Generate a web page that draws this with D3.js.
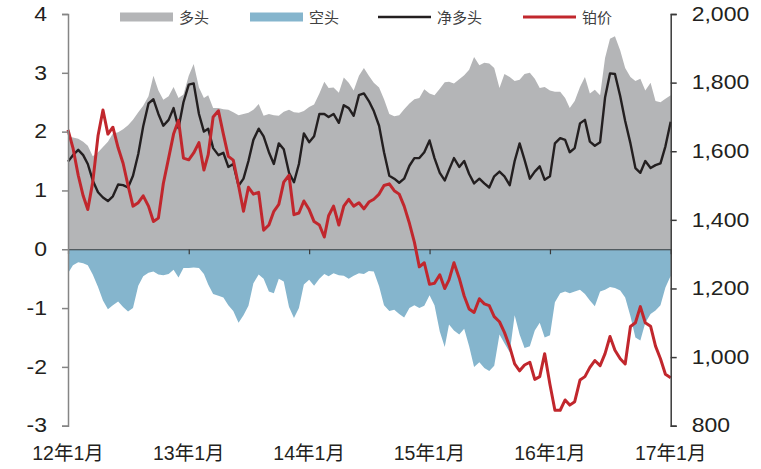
<!DOCTYPE html>
<html>
<head>
<meta charset="utf-8">
<script src="https://cdn.jsdelivr.net/npm/d3@7"></script>
<style>
  body { margin: 0; background: #fff; }
  svg { display: block; font-family: "Liberation Sans", Arial, "Noto Sans CJK SC", sans-serif; }
</style>
</head>
<body>
<div id="chart"></div>
<script>
// half-monthly readings, Jan 2012 -> Jan 2017
const longPos = [
  1.92, 1.90, 1.88, 1.83, 1.76, 1.58, 1.65, 1.74, 1.83, 1.97, 1.99, 2.04, 2.11, 2.20, 2.33, 2.44,
  2.60, 2.95, 2.70, 2.54, 2.60, 2.76, 2.57, 2.63, 2.95, 3.15, 2.75, 2.57, 2.62, 2.40, 2.40, 2.38,
  2.37, 2.33, 2.28, 2.30, 2.32, 2.37, 2.47, 2.27, 2.30, 2.28, 2.27, 2.34, 2.37, 2.33, 2.32, 2.35,
  2.42, 2.46, 2.65, 2.85, 2.74, 2.75, 2.66, 2.92, 2.83, 2.70, 2.95, 3.08, 2.95, 2.83, 2.75, 2.55,
  2.30, 2.26, 2.28, 2.38, 2.48, 2.55, 2.57, 2.72, 2.65, 2.62, 2.73, 2.84, 2.85, 2.82, 2.89, 2.96,
  3.05, 3.27, 3.13, 3.17, 3.16, 3.08, 2.74, 2.98, 2.93, 2.86, 2.88, 2.98, 3.00, 2.90, 2.74, 2.76,
  2.70, 2.68, 2.68, 2.57, 2.40, 2.52, 2.76, 2.93, 2.65, 2.71, 2.62, 3.25, 3.58, 3.62, 3.38, 3.08,
  2.93, 2.86, 2.90, 2.70, 2.83, 2.52, 2.50, 2.56, 2.62
];
const shortPos = [
  -0.41, -0.27, -0.22, -0.24, -0.27, -0.43, -0.64, -0.87, -1.02, -0.95, -0.89, -0.98, -1.06, -1.00, -0.62, -0.46,
  -0.40, -0.38, -0.43, -0.44, -0.42, -0.35, -0.48, -0.32, -0.32, -0.31, -0.32, -0.42, -0.60, -0.76, -0.79, -0.82,
  -0.95, -1.05, -1.25, -1.12, -0.96, -0.58, -0.43, -0.50, -0.72, -0.75, -0.50, -0.55, -0.98, -1.17, -1.00, -0.60,
  -0.52, -0.62, -0.50, -0.42, -0.46, -0.41, -0.44, -0.45, -0.50, -0.45, -0.41, -0.42, -0.37, -0.38, -0.63, -0.95,
  -1.05, -1.03, -1.10, -1.16, -1.00, -0.95, -1.00, -0.96, -0.78, -0.95, -1.40, -1.66, -1.28, -1.38, -1.45, -1.35,
  -1.65, -2.00, -1.92, -2.02, -2.07, -1.98, -1.45, -1.60, -1.75, -1.12, -1.45, -1.68, -1.65, -1.38, -1.25, -1.50,
  -1.46, -0.90, -0.75, -0.72, -0.75, -0.72, -0.69, -0.76, -0.87, -0.97, -0.72, -0.69, -0.64, -0.66, -0.70, -0.82,
  -1.14, -1.50, -1.55, -1.25, -1.10, -1.04, -0.95, -0.65, -0.45
];
const netPos = [
  1.49, 1.60, 1.69, 1.60, 1.45, 1.17, 0.97, 0.88, 0.82, 0.90, 1.10, 1.09, 1.05, 1.25, 1.62, 2.09,
  2.48, 2.55, 2.30, 2.10, 2.20, 2.40, 2.06, 2.50, 2.80, 2.82, 2.30, 2.00, 2.05, 1.72, 1.60, 1.64,
  1.40, 1.45, 1.08, 1.20, 1.50, 1.86, 2.05, 1.92, 1.65, 1.45, 1.80, 1.70, 1.30, 1.14, 1.45, 1.97,
  1.82, 1.92, 2.30, 2.30, 2.25, 2.30, 2.15, 2.45, 2.40, 2.27, 2.62, 2.65, 2.52, 2.35, 2.10, 1.65,
  1.25, 1.20, 1.13, 1.20, 1.42, 1.55, 1.55, 1.65, 1.85, 1.55, 1.30, 1.17, 1.35, 1.55, 1.40, 1.50,
  1.28, 1.12, 1.20, 1.12, 1.05, 1.24, 1.32, 1.24, 1.09, 1.50, 1.80, 1.52, 1.20, 1.32, 1.41, 1.18,
  1.24, 1.80, 1.89, 1.86, 1.65, 1.72, 2.14, 2.20, 1.83, 1.76, 1.82, 2.58, 2.99, 2.98, 2.60, 2.18,
  1.80, 1.38, 1.30, 1.50, 1.38, 1.43, 1.46, 1.75, 2.17
];
const price = [
  1662, 1610, 1530, 1470, 1430, 1510, 1645, 1720, 1650, 1670, 1610, 1565, 1500, 1440, 1450, 1470,
  1440, 1395, 1405, 1506, 1580, 1650, 1690, 1580, 1575, 1595, 1625, 1545, 1590, 1700, 1718, 1650,
  1585, 1574, 1500, 1425, 1495, 1475, 1480, 1370, 1385, 1425, 1445, 1510, 1530, 1415, 1420, 1455,
  1430, 1395, 1385, 1350, 1412, 1440, 1385, 1440, 1460, 1440, 1450, 1432, 1452, 1460, 1475, 1500,
  1505, 1485, 1475, 1440, 1390, 1335, 1263, 1275, 1212, 1215, 1240, 1200, 1225, 1275, 1230, 1178,
  1140, 1130, 1170, 1155, 1150, 1118, 1103, 1072, 1030, 980, 960, 977, 985, 935, 943, 1010,
  920, 845, 845, 875, 860, 870, 933, 943, 970, 990, 975, 1010, 1060, 1020, 995, 980,
  1089, 1100, 1147, 1100, 1090, 1032, 995, 950, 940
];
const dates = longPos.map((_, i) =>
  new Date(2012 + Math.floor(i / 24), Math.floor(i / 2) % 12, i % 2 ? 16 : 1));

const leftTicks = [-3, -2, -1, 0, 1, 2, 3, 4];
const rightTicks = [800, 1000, 1200, 1400, 1600, 1800, 2000];
const yearTicks = [2012, 2013, 2014, 2015, 2016, 2017];
const legendNames = ["多头", "空头", "净多头", "铂价"];

const width = 761, height = 469;
const colors = { long: "#b4b5b7", short: "#85b5cd", net: "#231f20", price: "#c1272d" };

const x = d3.scaleTime()
  .domain([new Date(2012, 0, 1), new Date(2017, 0, 1)])
  .range([68, 670.7]);
const yL = d3.scaleLinear().domain([-3, 4]).range([425.7, 14]);
const yR = d3.scaleLinear().domain([800, 2000]).range([425.7, 14]);

const svg = d3.select("#chart").append("svg")
  .attr("width", width)
  .attr("height", height);

// areas
svg.append("path")
  .datum(longPos)
  .attr("fill", colors.long)
  .attr("d", d3.area().x((d, i) => x(dates[i])).y0(yL(0)).y1(d => yL(d)));

svg.append("path")
  .datum(shortPos)
  .attr("fill", colors.short)
  .attr("d", d3.area().x((d, i) => x(dates[i])).y0(yL(0)).y1(d => yL(d)));

// zero line with year ticks
const xAxis = svg.append("g")
  .attr("transform", `translate(0,${yL(0)})`)
  .call(d3.axisBottom(x)
    .tickValues(yearTicks.slice(1, -1).map(y => new Date(y, 0, 1)))
    .tickSize(5)
    .tickFormat(""));
xAxis.selectAll("path, line").attr("stroke", "#3a3a3a").attr("stroke-width", 1.2);

// year labels at bottom
svg.append("g")
  .selectAll("text")
  .data(yearTicks)
  .join("text")
  .attr("x", d => x(new Date(d, 0, 1)))
  .attr("y", 460)
  .attr("text-anchor", "middle")
  .attr("font-size", 19.5)
  .attr("fill", "#231f20")
  .text(d => `${String(d).slice(2)}年1月`);

// lines
svg.append("path")
  .datum(netPos)
  .attr("fill", "none")
  .attr("stroke", colors.net)
  .attr("stroke-width", 2.4)
  .attr("stroke-linejoin", "round")
  .attr("d", d3.line().x((d, i) => x(dates[i])).y(d => yL(d)));

svg.append("path")
  .datum(price)
  .attr("fill", "none")
  .attr("stroke", colors.price)
  .attr("stroke-width", 3)
  .attr("stroke-linejoin", "round")
  .attr("d", d3.line().x((d, i) => x(dates[i])).y(d => yR(d)));

// axes
const stretch = 1.18;

const left = svg.append("g")
  .attr("transform", "translate(68,0)")
  .call(d3.axisLeft(yL).tickValues(leftTicks).tickSize(6).tickPadding(15).tickFormat(d => String(d)));
left.selectAll("path, line").attr("stroke", "#858585").attr("stroke-width", 1.5);
left.selectAll("text")
  .attr("font-size", 19.5)
  .attr("fill", "#231f20")
  .attr("x", -21 / stretch)
  .attr("transform", `scale(${stretch},1)`);

const right = svg.append("g")
  .attr("transform", "translate(670.7,0)")
  .call(d3.axisRight(yR).tickValues(rightTicks).tickSize(6).tickPadding(15).tickFormat(d3.format(",")));
right.selectAll("path, line").attr("stroke", "#3a3a3a").attr("stroke-width", 1.5);
right.selectAll("text")
  .attr("font-size", 19.5)
  .attr("fill", "#231f20")
  .attr("x", 21 / stretch)
  .attr("transform", `scale(${stretch},1)`);
svg.selectAll(".domain").attr("fill", "none");

// legend
const legendPos = [120, 250, 378, 523];
const legend = svg.append("g")
  .selectAll("g")
  .data(legendNames)
  .join("g")
  .attr("transform", (d, i) => `translate(${legendPos[i]},17)`);

legend.filter((d, i) => i < 2).append("rect")
  .attr("x", 0).attr("y", -4.5)
  .attr("width", 53).attr("height", 9)
  .attr("fill", (d, i) => i === 0 ? colors.long : colors.short);

legend.filter((d, i) => i >= 2).append("line")
  .attr("x1", 0).attr("x2", 53)
  .attr("stroke", (d, i) => i === 0 ? colors.net : colors.price)
  .attr("stroke-width", (d, i) => i === 0 ? 2.4 : 3);

legend.append("text")
  .attr("x", 59)
  .attr("y", 5.5)
  .attr("font-size", 15)
  .attr("fill", "#404040")
  .attr("font-family", "'Noto Sans CJK SC', sans-serif")
  .text(d => d);
</script>
</body>
</html>
